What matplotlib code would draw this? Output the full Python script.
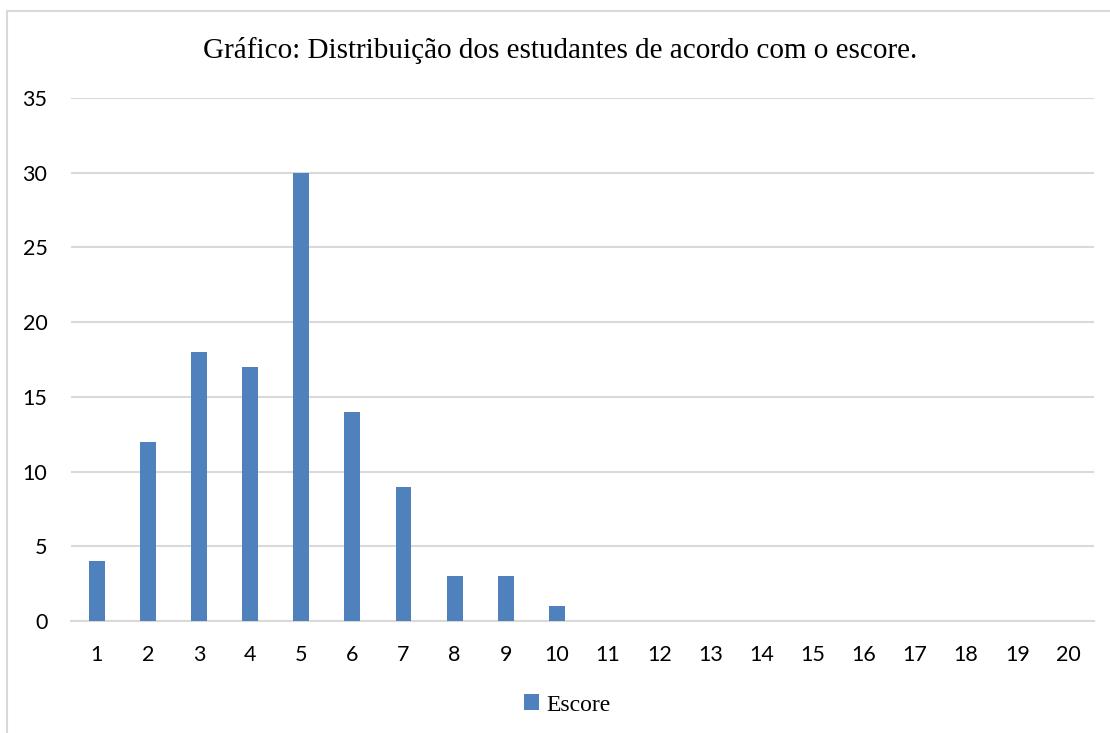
import matplotlib.pyplot as plt
from matplotlib.patches import Rectangle

scores = list(range(1, 21))
counts = [4, 12, 18, 17, 30, 14, 9, 3, 3, 1, 0, 0, 0, 0, 0, 0, 0, 0, 0, 0]
yticks = [0, 5, 10, 15, 20, 25, 30, 35]
title = 'Gráfico: Distribuição dos estudantes de acordo com o escore.'
series_name = 'Escore'

bar_color = '#4f81bd'
grid_color = '#d9d9d9'

def main():
    fig = plt.figure(figsize=(11.1, 7.33), dpi=100)
    fig.patches.append(Rectangle((7/1110, -0.1), 1.2, 1 - 11/733 + 0.1,
                                 transform=fig.transFigure, fill=False,
                                 edgecolor='#d9d9d9', linewidth=1.5))

    ax = fig.add_axes([71/1110, 1 - 621/733, 1023/1110, 523/733])
    ax.bar(scores, counts, width=0.31, color=bar_color, zorder=3, label=series_name)

    ax.set_xlim(0.5, 20.5)
    ax.set_ylim(0, 35)
    ax.set_yticks(yticks)
    ax.set_xticks(scores)
    ax.yaxis.grid(True, color=grid_color, linewidth=1.5, zorder=0)
    for s in ['top', 'right', 'left']:
        ax.spines[s].set_visible(False)
    ax.spines['bottom'].set_color(grid_color)
    ax.spines['bottom'].set_linewidth(1.5)
    ax.tick_params(axis='both', length=0, labelsize=15.5, labelcolor='#000000')
    ax.tick_params(axis='y', pad=17)
    ax.tick_params(axis='x', pad=17)
    for lab in ax.get_xticklabels() + ax.get_yticklabels():
        lab.set_fontfamily('Lato')

    fig.text(0.5045, 1 - 51/733, title, ha='center', va='center',
             fontsize=21, family='Liberation Serif')

    leg = fig.legend(loc='center', bbox_to_anchor=(567/1110, 1 - 705/733),
                     frameon=False, prop={'family': 'Liberation Serif', 'size': 17},
                     handlelength=0.65, handleheight=0.65, handletextpad=0.3)

    plt.savefig('out.png', dpi=100)

if __name__ == '__main__':
    main()
